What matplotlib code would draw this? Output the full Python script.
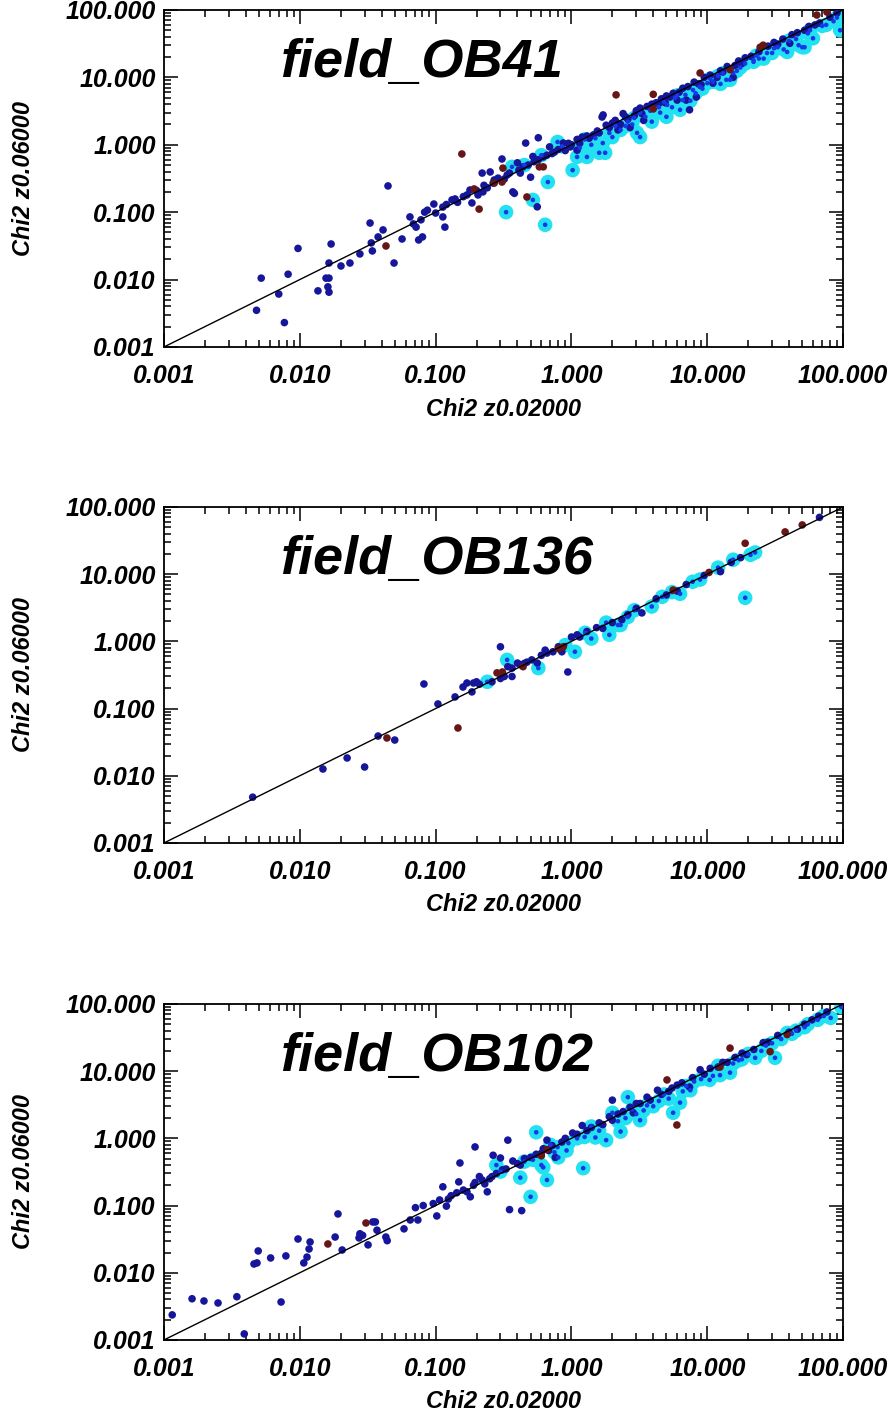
import numpy as np
import matplotlib
matplotlib.use("Agg")
import matplotlib.pyplot as plt
from matplotlib.ticker import FixedLocator, FuncFormatter, LogLocator, NullFormatter

plt.rcParams["font.family"] = ["Liberation Sans", "DejaVu Sans"]
plt.rcParams["font.weight"] = "bold"
plt.rcParams["font.style"] = "italic"
plt.rcParams["axes.labelweight"] = "bold"

# chi2 at z=0.02 (x) vs chi2 at z=0.06 (y)
ob41_navy = [
    (0.0048, 0.0035), (0.0052, 0.0105), (0.0070, 0.0061), (0.0077, 0.0023), (0.0082, 0.012),
    (0.0097, 0.029), (0.0136, 0.0068), (0.0161, 0.0078), (0.0156, 0.0105), (0.0164, 0.0105),
    (0.0164, 0.0065), (0.0164, 0.0176), (0.0170, 0.0337), (0.0201, 0.0159), (0.0234, 0.0176),
    (0.0277, 0.024), (0.0329, 0.069), (0.0336, 0.035), (0.0342, 0.0266), (0.0377, 0.0429),
    (0.041, 0.0545), (0.0446, 0.245), (0.0494, 0.0176), (0.0566, 0.040), (0.0647, 0.085),
    (0.0686, 0.067), (0.0718, 0.060), (0.075, 0.0387), (0.078, 0.077), (0.080, 0.0429),
    (0.083, 0.100), (0.087, 0.107), (0.097, 0.132), (0.1, 0.097), (0.113, 0.085),
    (0.117, 0.060), (0.113, 0.119), (0.132, 0.152), (0.139, 0.157), (0.170, 0.180),
    (0.179, 0.213), (0.185, 0.137), (0.205, 0.180), (0.223, 0.20), (0.22, 0.38),
    (0.252, 0.395), (0.227, 0.25), (0.265, 0.27), (0.288, 0.32), (0.308, 0.615),
    (0.336, 0.356), (0.37, 0.20), (0.38, 0.19), (0.40, 0.54), (0.42, 0.38),
    (0.46, 1.06), (0.44, 0.47), (0.56, 0.12), (0.57, 1.27), (0.52, 0.67),
    (0.50, 0.33), (0.57, 0.60), (0.69, 0.93), (0.87, 1.06), (0.98, 0.93),
    (1.2, 1.3), (1.1, 0.83), (1.68, 2.58), (1.71, 2.77), (1.45, 1.4),
    (1.9, 1.8), (2.2, 1.66), (2.4, 2.9), (2.7, 1.8), (3.4, 2.3),
    (4.2, 4.2), (5.3, 5.1), (6.0, 4.6), (7.0, 4.6), (7.4, 3.3),
    (8.3, 5.1), (11, 8.2), (11.8, 10), (15.5, 10), (18, 16),
    (31, 33), (40.5, 32), (67, 64), (90, 90), (1.0, 1.0),
    (1.3, 1.35), (1.55, 1.6), (2.0, 2.1), (2.5, 2.6), (3.0, 3.2),
    (3.6, 3.7), (4.6, 4.8), (5.6, 5.8), (6.6, 6.9), (8.0, 8.5),
    (9.5, 10), (12.5, 12.5), (14, 14.5), (17, 17.5), (21, 20.5),
    (28, 29), (36, 37), (46, 46), (56, 57), (0.75, 0.78),
    (0.62, 0.66), (0.9, 0.82), (1.15, 1.05), (2.3, 2.0), (3.3, 2.9),
    (4.9, 4.2), (9, 7.8), (0.12, 0.13), (0.145, 0.14), (0.16, 0.17),
    (0.2, 0.21), (0.24, 0.23), (0.27, 0.3), (0.32, 0.31), (0.35, 0.38),
    (0.41, 0.42), (0.48, 0.5), (0.53, 0.56), (0.66, 0.7), (0.72, 0.74),
    (0.8, 0.85), (0.95, 1.05), (1.1, 1.2), (1.35, 1.25), (1.6, 1.5),
    (1.8, 1.95), (2.1, 2.3), (2.6, 2.4), (2.9, 2.7), (3.2, 3.5),
    (3.9, 4.0), (4.4, 4.1), (5.0, 5.3), (6.2, 6.0), (7.2, 7.3),
    (8.6, 8.0), (10.5, 10.8), (13, 12), (16, 15), (19, 19.5),
    (24, 24), (33, 31), (42, 43), (52, 50), (62, 60), (80, 78),
]
ob41_cyan = [
    (0.33, 0.1), (0.365, 0.47), (0.52, 0.152), (0.67, 0.28), (0.64, 0.065),
    (0.79, 1.1), (1.02, 0.42), (1.1, 0.66), (1.3, 0.66), (1.6, 0.76),
    (1.77, 0.76), (1.7, 1.06), (2.3, 1.66), (3.04, 1.5), (3.2, 1.3),
    (3.2, 3.0), (3.8, 3.2), (5.0, 2.6), (5.07, 3.9), (6.3, 3.3),
    (6.6, 4.6), (7.85, 6.5), (10, 8.2), (11, 8.6), (13.8, 9.2),
    (14.7, 9.2), (15.5, 11.6), (21.9, 17), (21.9, 18), (27.5, 23),
    (30, 23), (36.5, 26), (38.7, 23.8), (50, 28), (52, 28),
    (57, 50), (60, 38), (90, 77), (95, 50), (0.45, 0.5),
    (0.6, 0.7), (0.85, 0.95), (1.25, 1.2), (1.9, 1.5), (2.6, 2.2),
    (2.9, 2.5), (4.4, 3.6), (5.8, 5.0), (8.8, 7.2), (12, 10.5),
    (17.5, 14), (24, 19), (33, 28), (45, 37), (70, 58),
    (1.15, 0.9), (1.4, 1.0), (1.5, 1.25), (2.0, 1.3), (2.1, 1.9),
    (2.5, 1.9), (2.8, 2.0), (3.5, 2.6), (3.9, 2.2), (4.5, 3.0),
    (4.8, 4.3), (5.5, 3.6), (6.0, 5.4), (6.9, 5.5), (7.5, 4.5),
    (8.2, 5.8), (9.2, 6.8), (10.5, 9.5), (12.5, 8.0), (13, 11.5),
    (16.5, 12.5), (19, 16), (23, 21), (26, 19), (31, 27),
    (40, 35), (47, 30), (55, 45), (75, 60), (85, 68),
]
ob41_brown = [
    (0.0431, 0.0315), (0.156, 0.73), (0.192, 0.221), (0.209, 0.111), (0.313, 0.45),
    (0.308, 0.28), (0.47, 0.168), (0.58, 0.47), (0.62, 0.47), (2.13, 5.5),
    (4.0, 5.6), (4.0, 3.4), (8.85, 11.6), (14.7, 13), (24.5, 28),
    (25.8, 30), (64, 84), (76, 93), (0.27, 0.27),
]

ob136_navy = [
    (0.0045, 0.0048), (0.0148, 0.0126), (0.0223, 0.0184), (0.030, 0.0135), (0.0377, 0.039),
    (0.050, 0.034), (0.082, 0.232), (0.104, 0.117), (0.139, 0.149), (0.159, 0.209),
    (0.17, 0.24), (0.19, 0.24), (0.2, 0.25), (0.185, 0.177), (0.30, 0.83),
    (0.34, 0.42), (0.32, 0.30), (0.365, 0.30), (0.365, 0.40), (0.40, 0.475),
    (0.47, 0.49), (0.51, 0.53), (0.56, 0.475), (0.66, 0.67), (0.64, 0.74),
    (0.73, 0.70), (0.85, 0.70), (0.94, 0.35), (1.0, 1.16), (1.15, 1.16),
    (1.53, 1.6), (1.7, 1.56), (2.0, 1.9), (2.35, 2.1), (2.6, 2.5),
    (3.3, 2.65), (5.0, 4.9), (6.0, 5.6), (12.5, 10.9), (17.6, 17.6),
    (67, 70), (0.3, 0.28), (0.26, 0.25), (1.3, 1.4), (3.0, 3.1),
    (4.2, 4.3), (7.0, 7.0), (9.5, 9.6), (15, 15), (0.45, 0.47),
    (0.6, 0.62), (0.8, 0.83), (0.21, 0.23), (0.42, 0.45), (1.1, 1.25),
]
ob136_cyan = [
    (0.24, 0.25), (0.336, 0.53), (0.57, 0.40), (0.90, 0.88), (1.06, 0.70),
    (1.26, 1.34), (1.4, 1.1), (1.9, 1.25), (2.2, 1.75), (2.6, 2.3),
    (2.3, 1.75), (3.9, 3.3), (4.65, 4.6), (6.3, 5.1), (7.8, 7.7),
    (8.85, 8.3), (12, 12.5), (15.5, 16.4), (19, 4.45), (20.8, 19.4),
    (22.5, 21), (1.8, 1.9), (2.9, 2.9), (5.5, 5.4),
]
ob136_brown = [
    (0.0438, 0.0365), (0.146, 0.0514), (0.283, 0.34), (0.31, 0.35), (0.44, 0.42),
    (0.87, 0.83), (5.6, 5.8), (10.3, 10.6), (19, 28.8), (37.4, 42.5),
    (50, 54), (0.8, 0.78),
]

ob102_navy = [
    (0.00115, 0.00236), (0.00161, 0.0041), (0.00197, 0.0038), (0.0025, 0.00355), (0.00344, 0.0044),
    (0.0039, 0.00123), (0.00484, 0.014), (0.00494, 0.0211), (0.0046, 0.0135), (0.0061, 0.0166),
    (0.00728, 0.00367), (0.0079, 0.0178), (0.0097, 0.0318), (0.0107, 0.014), (0.0113, 0.0171),
    (0.0117, 0.0226), (0.0119, 0.0287), (0.0182, 0.034), (0.0191, 0.075), (0.0205, 0.0218),
    (0.0273, 0.033), (0.0277, 0.038), (0.029, 0.036), (0.0318, 0.026), (0.0345, 0.057),
    (0.036, 0.057), (0.037, 0.043), (0.043, 0.034), (0.044, 0.030), (0.0585, 0.045),
    (0.065, 0.061), (0.074, 0.061), (0.071, 0.093), (0.081, 0.1), (0.096, 0.107),
    (0.102, 0.07), (0.107, 0.121), (0.113, 0.19), (0.12, 0.098), (0.124, 0.125),
    (0.151, 0.43), (0.148, 0.225), (0.143, 0.155), (0.17, 0.16), (0.18, 0.135),
    (0.195, 0.745), (0.195, 0.22), (0.21, 0.27), (0.23, 0.21), (0.24, 0.16),
    (0.26, 0.27), (0.265, 0.56), (0.30, 0.51), (0.31, 0.34), (0.34, 0.94),
    (0.35, 0.087), (0.43, 0.084), (0.37, 0.46), (0.42, 0.40), (0.66, 0.94),
    (0.76, 0.52), (0.68, 0.66), (1.02, 1.2), (1.2, 1.55), (2.0, 1.86),
    (2.0, 3.7), (2.85, 2.4), (3.6, 4.1), (4.3, 5.2), (7.4, 5.8),
    (8.85, 10.5), (19.5, 17.6), (25.8, 26.5), (46, 42), (59, 58),
    (76, 76), (0.16, 0.17), (0.22, 0.24), (0.28, 0.3), (0.33, 0.35),
    (0.4, 0.42), (0.5, 0.52), (0.6, 0.6), (0.85, 0.88), (1.3, 1.3),
    (1.6, 1.7), (2.4, 2.5), (3.2, 3.3), (5.5, 5.6), (6.5, 6.7),
    (10.5, 11), (13, 13.5), (16, 16), (33, 34), (0.45, 0.5),
    (0.55, 0.58), (0.62, 0.7), (0.72, 0.78), (0.9, 1.0), (1.1, 1.15),
    (1.4, 1.45), (1.7, 1.6), (1.9, 2.1), (2.2, 2.3), (2.7, 2.9),
    (3.0, 3.3), (3.8, 3.7), (4.6, 4.5), (5.2, 5.0), (6.0, 6.2),
    (7.8, 8.0), (9.5, 9.0), (12, 11.5), (14, 13.5), (18, 18.5),
    (22, 21), (28, 27), (40, 38), (52, 50), (66, 66),
    (0.25, 0.25), (0.19, 0.2), (0.13, 0.14),
]
ob102_cyan = [
    (0.28, 0.40), (0.42, 0.26), (0.50, 0.135), (0.55, 1.23), (0.60, 0.40),
    (0.66, 0.24), (0.79, 0.74), (0.62, 0.37), (0.8, 0.52), (0.92, 0.66),
    (1.22, 0.36), (1.5, 1.03), (1.8, 0.94), (2.3, 1.26), (2.6, 4.1),
    (3.2, 1.86), (4.0, 3.0), (5.6, 2.4), (6.3, 3.4), (10.4, 7.4),
    (12.4, 8.7), (14.7, 9.5), (22.5, 15.8), (31.5, 15.8), (38.7, 37),
    (52, 45), (81, 62), (97, 90), (0.7, 0.8), (1.1, 1.0),
    (1.4, 1.5), (2.0, 2.4), (2.8, 2.7), (3.6, 3.1), (4.8, 4.5),
    (5.2, 3.9), (7.0, 6.0), (8.0, 7.0), (12, 12), (17, 14.5),
    (20, 18), (27, 24), (35, 30), (45, 40), (65, 58),
    (0.3, 0.32), (0.45, 0.45), (0.52, 0.48), (0.75, 0.62), (0.95, 0.85),
    (1.25, 1.05), (1.6, 1.3), (2.2, 1.8), (2.5, 2.0), (3.0, 2.3),
    (3.4, 2.6), (4.4, 3.6), (6.6, 5.0), (7.5, 5.2), (9, 7.6),
    (11, 8.5), (15.5, 13), (18, 15), (25, 20), (30, 26),
    (42, 36), (55, 50), (72, 66),
]
ob102_brown = [
    (0.0161, 0.0268), (0.0307, 0.055), (5.05, 7.4), (5.97, 1.58), (12.4, 11.5),
    (14.7, 22), (29, 19.5), (38.7, 35), (0.6, 0.55), (0.66, 0.68),
]

fields = ["field_OB41", "field_OB136", "field_OB102"]
panels = [
    (ob41_navy, ob41_cyan, ob41_brown),
    (ob136_navy, ob136_cyan, ob136_brown),
    (ob102_navy, ob102_cyan, ob102_brown),
]
decades = [0.001, 0.01, 0.1, 1.0, 10.0, 100.0]

fig = plt.figure(figsize=(8.96, 14.22), dpi=100)
# axes boxes in figure fractions (left, bottom, width, height)
boxes = [
    (0.183, 0.756, 0.758, 0.237),
    (0.183, 0.4072, 0.758, 0.2363),
    (0.183, 0.0577, 0.758, 0.2363),
]

for box, name, (navy, cyan, brown) in zip(boxes, fields, panels):
    ax = fig.add_axes(box)
    ax.set_xscale("log")
    ax.set_yscale("log")
    ax.set_xlim(0.001, 100)
    ax.set_ylim(0.001, 100)

    navy = np.array(navy)
    cyan = np.array(cyan)
    brown = np.array(brown)

    ax.scatter(cyan[:, 0], cyan[:, 1], s=110, color="#22e2f2", edgecolors="none", zorder=2)
    ax.scatter(navy[:, 0], navy[:, 1], s=30, color="#16169a", edgecolors="none", zorder=3)
    ax.scatter(cyan[:, 0], cyan[:, 1], s=11, color="#1838e8", edgecolors="none", zorder=4)
    ax.scatter(brown[:, 0], brown[:, 1], s=30, color="#661616", edgecolors="none", zorder=4)
    ax.plot([0.001, 100], [0.001, 100], color="black", lw=1.0, zorder=5)

    for axis in (ax.xaxis, ax.yaxis):
        axis.set_major_locator(FixedLocator(decades))
        axis.set_major_formatter(FuncFormatter(lambda v, p: f"{v:.3f}"))
        axis.set_minor_locator(LogLocator(base=10, subs=np.arange(2, 10)))
        axis.set_minor_formatter(NullFormatter())

    ax.tick_params(which="both", direction="in", top=True, right=True, width=1.1)
    ax.tick_params(which="major", length=10)
    ax.tick_params(which="minor", length=5)
    ax.tick_params(axis="x", pad=12, labelsize=18)
    ax.tick_params(axis="y", pad=6, labelsize=18)
    for sp in ax.spines.values():
        sp.set_linewidth(1.3)

    ax.set_xlabel("Chi2 z0.02000", fontsize=17, fontweight="bold")
    ax.set_ylabel("Chi2 z0.06000", fontsize=17, fontweight="bold")
    ax.xaxis.set_label_coords(0.5, -0.15)
    ax.yaxis.set_label_coords(-0.19, 0.5)

    ax.text(0.171, 0.80, name, transform=ax.transAxes, fontsize=39,
            ha="left", va="baseline")

fig.savefig("out.png", dpi=100)
